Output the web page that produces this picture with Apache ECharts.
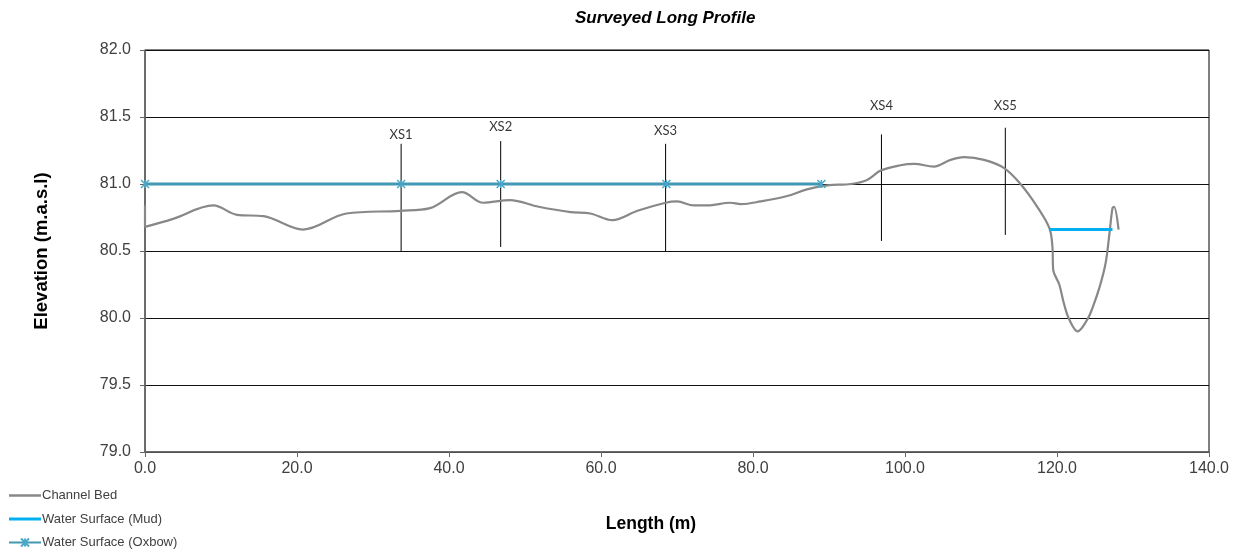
<!DOCTYPE html>
<html>
<head>
<meta charset="utf-8">
<script src="https://cdn.jsdelivr.net/npm/echarts@6/dist/echarts.min.js"></script>
<style>
html,body{margin:0;padding:0;background:#fff;}
#chart{width:1242px;height:556px;}
</style>
</head>
<body>
<div id="chart"></div>
<script>
// Channel bed survey (length m, elevation m.a.s.l)
var bedLength = [0, 0, 3.7, 9.0, 12.1, 15.6, 20.8, 26.5, 33.6, 37.5, 41.7, 44.5, 48.0, 51.8, 56.0, 58.6, 61.5, 64.8, 68.5, 70.0, 72.2, 74.0, 77.0, 78.4, 81.0, 84.5, 87.1, 89.8, 92.9, 95.0, 96.8, 99.4, 101.2, 103.8, 106.0, 107.8, 110.4, 113.0, 115.2, 117.4, 119.0, 119.4, 119.5, 120.3, 120.9, 121.6, 122.7, 124.0, 124.7, 125.6, 126.4, 126.9, 127.3, 127.5, 128.1];
var bedElevation = [80.84, 80.68, 80.74, 80.84, 80.77, 80.76, 80.66, 80.78, 80.80, 80.82, 80.94, 80.86, 80.88, 80.83, 80.79, 80.78, 80.73, 80.80, 80.86, 80.87, 80.84, 80.84, 80.86, 80.85, 80.87, 80.91, 80.96, 80.99, 81.00, 81.03, 81.10, 81.14, 81.15, 81.13, 81.18, 81.20, 81.18, 81.12, 81.00, 80.83, 80.67, 80.53, 80.36, 80.25, 80.11, 79.99, 79.90, 79.99, 80.08, 80.23, 80.41, 80.63, 80.82, 80.83, 80.66];

var mudLength = [119.0, 127.3];
var mudElevation = [80.66, 80.66];

var oxbowLength = [0, 33.7, 46.8, 68.6, 89.0];
var oxbowElevation = [81.0, 81.0, 81.0, 81.0, 81.0];

var xsNames = ['XS1', 'XS2', 'XS3', 'XS4', 'XS5'];
var xsLength = [33.7, 46.8, 68.5, 96.9, 113.2];
var xsTop = [81.30, 81.32, 81.30, 81.37, 81.42];
var xsBottom = [80.50, 80.53, 80.50, 80.575, 80.62];
var xsLabelElevation = [81.37, 81.43, 81.40, 81.58, 81.58];

var legendNames = ['Channel Bed', 'Water Surface (Mud)', 'Water Surface (Oxbow)'];

function pairs(a, b) { return a.map(function (v, i) { return [v, b[i]]; }); }

var FONT = 'Arial, "Liberation Sans", sans-serif';
var asterisk = 'path://M0,0L10,10M10,0L0,10M5,0L5,10';
var lineIcon = 'path://M0,0H32V2.5H0Z';

var xsSeries = xsNames.map(function (n, i) {
  return {
    name: n, type: 'line', silent: true, symbol: 'none',
    lineStyle: { color: '#000', width: 1 },
    data: [[xsLength[i], xsBottom[i]], [xsLength[i], xsTop[i]]],
    z: 3
  };
});

var chart = echarts.init(document.getElementById('chart'));
chart.setOption({
  backgroundColor: '#fff',
  animation: false,
  title: {
    text: 'Surveyed Long Profile',
    left: 570, top: 5,
    textStyle: { fontFamily: FONT, fontSize: 17, fontWeight: 'bold', fontStyle: 'italic', color: '#000' }
  },
  legend: {
    orient: 'vertical', left: 8, top: 489, padding: 0, height: 90,
    itemWidth: 32, itemHeight: 10, itemGap: 10.5,
    data: [
      { name: legendNames[0], icon: lineIcon },
      { name: legendNames[1], icon: 'path://M0,0H32V3H0Z' },
      { name: legendNames[2] }
    ],
    textStyle: { fontFamily: FONT, fontSize: 13, color: '#404040', padding: [0, 0, 0, -4] }
  },
  grid: {
    left: 145, right: 33, top: 50, bottom: 104,
    show: true, borderColor: '#000', borderWidth: 1, backgroundColor: 'transparent'
  },
  xAxis: {
    type: 'value', min: 0, max: 140, interval: 20,
    name: 'Length (m)', nameLocation: 'middle', nameGap: 63,
    nameTextStyle: { fontFamily: FONT, fontSize: 17.5, fontWeight: 'bold', color: '#000', padding: [0, 0, 0, -52] },
    axisLine: { lineStyle: { color: '#666', width: 1.5 } },
    axisTick: { show: true, length: 5, lineStyle: { color: '#666' } },
    axisLabel: { fontFamily: FONT, fontSize: 16, color: '#404040', margin: 9,
      formatter: function (v) { return v.toFixed(1); } },
    splitLine: { show: false }
  },
  yAxis: {
    type: 'value', min: 79, max: 82, interval: 0.5,
    name: 'Elevation (m.a.s.l)', nameLocation: 'middle', nameGap: 94,
    nameTextStyle: { fontFamily: FONT, fontSize: 18.5, fontWeight: 'bold', color: '#000' },
    axisLine: { show: true, lineStyle: { color: '#666', width: 1.5 } },
    axisTick: { show: true, length: 5, lineStyle: { color: '#666' } },
    axisLabel: { fontFamily: FONT, fontSize: 16, color: '#404040', margin: 14,
      formatter: function (v) { return v.toFixed(1); } },
    splitLine: { show: true, lineStyle: { color: '#111', width: 1 } }
  },
  series: [
    {
      name: legendNames[0], type: 'line', smooth: 0.35, showSymbol: false, symbol: 'none',
      lineStyle: { color: '#888', width: 2.2 }, itemStyle: { color: '#888' },
      data: pairs(bedLength, bedElevation), z: 4
    },
    {
      name: legendNames[1], type: 'line', showSymbol: false, symbol: 'none',
      lineStyle: { color: '#00b0f0', width: 3 }, itemStyle: { color: '#00b0f0' },
      data: pairs(mudLength, mudElevation), z: 5
    },
    {
      name: legendNames[2], type: 'line', symbol: asterisk, symbolSize: 8,
      lineStyle: { color: '#4198b4', width: 3 },
      itemStyle: { color: '#4aa8c8', borderColor: '#4aa8c8', borderWidth: 1.5 },
      data: pairs(oxbowLength, oxbowElevation), z: 6
    },
    {
      name: 'XS labels', type: 'scatter', silent: true, symbolSize: 0,
      data: xsNames.map(function (n, i) { return { name: n, value: [xsLength[i], xsLabelElevation[i]] }; }),
      label: { show: true, position: 'inside', formatter: '{b}',
        fontFamily: 'Lato, "Open Sans", sans-serif', fontSize: 13, color: '#000' },
      z: 7
    }
  ].concat(xsSeries)
});
</script>
</body>
</html>
